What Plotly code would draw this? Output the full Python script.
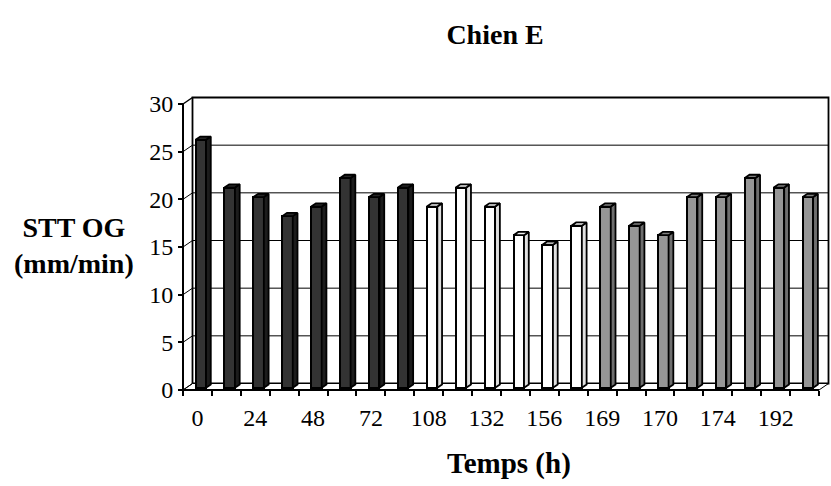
import plotly.graph_objects as go

# STT OG (mm/min) measured over time for dog E
tick_labels = ["0", "24", "48", "72", "108", "132", "156", "169", "170", "174", "192"]
stt_values = [26, 21, 20, 18, 19, 22, 20, 21,
              19, 21, 19, 16, 15, 17,
              19, 17, 16, 20, 20, 22, 21, 20]
phase = ["A"] * 8 + ["B"] * 6 + ["C"] * 8

FRONT = {"A": "#333333", "B": "#FFFFFF", "C": "#969696"}
SIDE = {"A": "#1c1c1c", "B": "#e0e0e0", "C": "#6e6e6e"}
TOP = {"A": "#262626", "B": "#f0f0f0", "C": "#808080"}

FONT = "Liberation Serif, Times New Roman, serif"
W, H = 831, 486

# plot box in pixels and scale of the front axes
L, R, T, B = 178, 831, 92, 395
AX_X0, AX_Y0 = 183, 390          # front-axis origin
PX_X = (819 - 183) / 22.0        # px per category
PX_Y = (390 - 104) / 30.0        # px per unit
n = len(stt_values)

x_lo = -0.5 - (AX_X0 - L) / PX_X
x_hi = x_lo + (R - L) / PX_X
y_lo = 0 - (B - AX_Y0) / PX_Y
y_hi = y_lo + (B - T) / PX_Y

# depth of the pseudo-3D box, in data units
DX = 9.5 / PX_X
DY = 6.5 / PX_Y
# bar geometry
FX, FY = 0.35 * DX, 0.35 * DY
BW = 10.5 / PX_X
BX, BY = 0.5 * DX, 0.5 * DY

fig = go.Figure()

# front faces
for g in ["A", "B", "C"]:
    idx = [i for i in range(n) if phase[i] == g]
    fig.add_trace(go.Bar(
        x=[i + FX for i in idx], y=[stt_values[i] for i in idx], base=FY,
        width=BW, marker=dict(color=FRONT[g], line=dict(color="black", width=2)),
        showlegend=False, hoverinfo="skip"))

# side and top faces
for g in ["A", "B", "C"]:
    sx, sy, tx, ty = [], [], [], []
    for i in range(n):
        if phase[i] != g:
            continue
        v = stt_values[i]
        xl = i + FX - BW / 2
        xr = i + FX + BW / 2
        sx += [xr, xr + BX, xr + BX, xr, xr, None]
        sy += [FY, FY + BY, FY + v + BY, FY + v, FY, None]
        tx += [xl, xl + BX, xr + BX, xr, xl, None]
        ty += [FY + v, FY + v + BY, FY + v + BY, FY + v, FY + v, None]
    fig.add_trace(go.Scatter(x=sx, y=sy, mode="lines", fill="toself",
                             fillcolor=SIDE[g], line=dict(color="black", width=1.8),
                             showlegend=False, hoverinfo="skip", xaxis="x2"))
    fig.add_trace(go.Scatter(x=tx, y=ty, mode="lines", fill="toself",
                             fillcolor=TOP[g], line=dict(color="black", width=1.8),
                             showlegend=False, hoverinfo="skip", xaxis="x2"))

shapes = []
xa, xb = -0.5, n - 0.5
# back wall
shapes.append(dict(type="rect", xref="x", yref="y", x0=xa + DX, x1=xb + DX, y0=DY, y1=30 + DY,
                   fillcolor="white", line=dict(color="black", width=1.8), layer="below"))
# floor
shapes.append(dict(type="path", xref="x", yref="y",
                   path=f"M{xa},0 L{xb},0 L{xb + DX},{DY} L{xa + DX},{DY} Z",
                   fillcolor="white", line=dict(color="black", width=1), layer="below"))
# gridlines on back wall and left wall
for v in range(0, 31, 5):
    if 0 < v < 30:
        shapes.append(dict(type="line", xref="x", yref="y", x0=xa + DX, x1=xb + DX,
                           y0=v + DY, y1=v + DY, line=dict(color="black", width=1), layer="below"))
    shapes.append(dict(type="line", xref="x", yref="y", x0=xa, x1=xa + DX,
                       y0=v, y1=v + DY, line=dict(color="black", width=1.5 if v == 30 else 1),
                       layer="below"))
# front axis lines
shapes.append(dict(type="line", xref="x", yref="y", x0=xa, x1=xa, y0=0, y1=30,
                   line=dict(color="black", width=2)))
shapes.append(dict(type="line", xref="x", yref="y", x0=xa, x1=xb, y0=0, y1=0,
                   line=dict(color="black", width=2)))

pos_y = (AX_X0 - L) / (R - L)
pos_x = (B - AX_Y0) / (B - T)

annotations = [
    dict(text="<b>STT OG<br>(mm/min)</b>", xref="paper", yref="paper",
         x=(74 - L) / (R - L), y=(B - 245) / (B - T), xanchor="center", yanchor="middle",
         showarrow=False, font=dict(family=FONT, size=28, color="black")),
    dict(text="<b>Temps (h)</b>", xref="paper", yref="paper",
         x=(509 - L) / (R - L), y=(B - 463) / (B - T), xanchor="center", yanchor="middle",
         showarrow=False, font=dict(family=FONT, size=29, color="black")),
]

fig.update_layout(
    width=W, height=H, template="none",
    paper_bgcolor="white", plot_bgcolor="white",
    margin=dict(l=L, r=W - R, t=T, b=H - B),
    bargap=0, barmode="overlay",
    title=dict(text="<b>Chien E</b>", x=495 / W, xref="container", xanchor="center",
               y=1 - 34.5 / H, yref="container", yanchor="middle",
               font=dict(family=FONT, size=28, color="black")),
    xaxis=dict(range=[x_lo, x_hi], anchor="free", position=pos_x,
               tickvals=list(range(0, n, 2)), ticktext=tick_labels,
               ticks="", showgrid=False, zeroline=False, showline=False,
               automargin=False, ticklabelstandoff=11,
               tickfont=dict(family=FONT, size=24, color="black")),
    xaxis2=dict(range=[x_lo, x_hi], overlaying="x", anchor="free", position=pos_x,
                side="bottom", tickvals=[i - 0.5 for i in range(n + 1)],
                ticks="outside", ticklen=5, tickwidth=1.5, tickcolor="black",
                showticklabels=False, showgrid=False, zeroline=False, showline=False,
                automargin=False),
    yaxis=dict(range=[y_lo, y_hi], anchor="free", position=pos_y,
               tickvals=list(range(0, 31, 5)),
               ticks="outside", ticklen=5, tickwidth=1.5, tickcolor="black",
               showgrid=False, zeroline=False, showline=False, automargin=False,
               ticklabelstandoff=0,
               tickfont=dict(family=FONT, size=24, color="black")),
    shapes=shapes,
    annotations=annotations,
)

fig.write_html("out.html")
